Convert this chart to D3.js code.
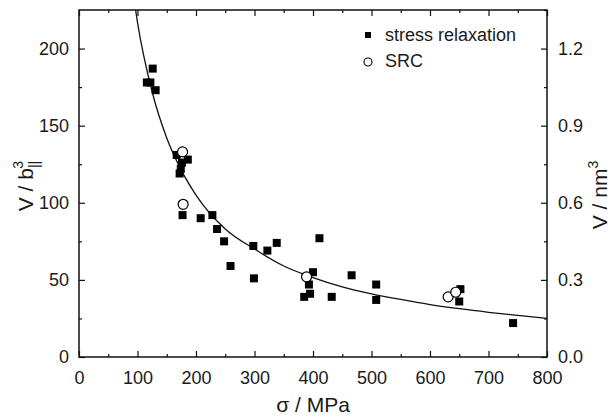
<!DOCTYPE html>
<html>
<head>
<meta charset="utf-8">
<script src="https://cdn.jsdelivr.net/npm/d3@7"></script>
<style>
    body { margin: 0; background: #fff; }
    text { font-family: "Liberation Sans", Arial, sans-serif; fill: #1a1a1a; }
</style>
</head>
<body>
<script>
// stress relaxation points (sigma in MPa, V in b^3)
const relaxSigma = [116, 122, 126, 131, 167, 186, 176, 174, 172, 177, 208, 228, 236, 248, 259, 299, 298, 322, 338, 411, 400, 393, 395, 385, 432, 466, 508, 508, 652, 650, 742];
const relaxV     = [178, 178, 187, 173, 131, 128, 126, 122, 119,  92,  90,  92,  83,  75,  59,  51,  72,  69,  74,  77,  55,  47,  41,  39,  39,  53,  47,  37,  44,  36,  22];

// SRC points
const srcSigma = [177, 178, 389, 631, 644];
const srcV     = [133,  99,  52,  39,  42];

// fitted curve
const fitSigma = [96, 100, 125, 150, 175, 200, 250, 300, 350, 400, 450, 500, 550, 600, 650, 700, 750, 800];
const fitV     = [227, 217, 172, 142, 121, 105, 83, 70, 59, 51.5, 45.5, 41, 37.3, 34, 31.3, 29, 27, 25];

const xTicks = [0, 100, 200, 300, 400, 500, 600, 700, 800];
const yTicks = [0, 50, 100, 150, 200];
const y2Ticks = [0.0, 0.3, 0.6, 0.9, 1.2];
const b3ToNm3 = 0.006;

const margin = {top: 10, right: 65, bottom: 61, left: 79};
const width = 612 - margin.left - margin.right;
const height = 418 - margin.top - margin.bottom;

const svg = d3.select("body").append("svg")
    .attr("width", 612)
    .attr("height", 418)
    .append("g")
    .attr("transform", "translate(" + margin.left + "," + margin.top + ")");

const xScale = d3.scaleLinear().domain([0, 800]).range([0, width]);
const yScale = d3.scaleLinear().domain([0, 225]).range([height, 0]);
const y2Scale = d3.scaleLinear().domain([0, 225 * b3ToNm3]).range([height, 0]);

// inward ticks, no axis line (the frame is drawn separately)
function styleAxis(g) {
    g.select(".domain").remove();
    g.selectAll("line").attr("stroke", "#111").attr("stroke-width", 1.2);
    g.selectAll("text").attr("font-size", 18).attr("fill", "#1a1a1a")
        .attr("font-family", "Liberation Sans, Arial, sans-serif");
}

const xMinor = d3.range(50, 800, 100);
const yMinor = d3.range(25, 225, 50);
const y2Minor = d3.range(0.15, 1.35, 0.3);

// bottom axis
svg.append("g")
    .attr("transform", "translate(0," + height + ")")
    .call(d3.axisBottom(xScale).tickValues(xTicks).tickSize(-6).tickPadding(14).tickFormat(d3.format("d")))
    .call(styleAxis);
svg.append("g")
    .attr("transform", "translate(0," + height + ")")
    .call(d3.axisBottom(xScale).tickValues(xMinor).tickSize(-3).tickFormat(""))
    .call(styleAxis);

// top axis
svg.append("g")
    .call(d3.axisTop(xScale).tickValues(xTicks).tickSize(-6).tickFormat(""))
    .call(styleAxis);
svg.append("g")
    .call(d3.axisTop(xScale).tickValues(xMinor).tickSize(-3).tickFormat(""))
    .call(styleAxis);

// left axis
svg.append("g")
    .call(d3.axisLeft(yScale).tickValues(yTicks).tickSize(-6).tickPadding(10))
    .call(styleAxis);
svg.append("g")
    .call(d3.axisLeft(yScale).tickValues(yMinor).tickSize(-3).tickFormat(""))
    .call(styleAxis);

// right axis
svg.append("g")
    .attr("transform", "translate(" + width + ",0)")
    .call(d3.axisRight(y2Scale).tickValues(y2Ticks).tickSize(-6).tickPadding(11).tickFormat(d3.format(".1f")))
    .call(styleAxis);
svg.append("g")
    .attr("transform", "translate(" + width + ",0)")
    .call(d3.axisRight(y2Scale).tickValues(y2Minor).tickSize(-3).tickFormat(""))
    .call(styleAxis);

// frame
svg.append("rect")
    .attr("width", width)
    .attr("height", height)
    .attr("fill", "none")
    .attr("stroke", "#111")
    .attr("stroke-width", 1.5);

// clip for the fit curve
svg.append("clipPath").attr("id", "plotclip")
    .append("rect").attr("width", width).attr("height", height);

const fitData = fitSigma.map((s, i) => ({s: s, v: fitV[i]}));
svg.append("path")
    .datum(fitData)
    .attr("clip-path", "url(#plotclip)")
    .attr("fill", "none")
    .attr("stroke", "#111")
    .attr("stroke-width", 1.3)
    .attr("d", d3.line().x(d => xScale(d.s)).y(d => yScale(d.v)).curve(d3.curveMonotoneX));

// stress relaxation squares
const sq = 8;
svg.selectAll(".relax")
    .data(relaxSigma.map((s, i) => ({s: s, v: relaxV[i]})))
    .enter().append("rect")
    .attr("class", "relax")
    .attr("x", d => xScale(d.s) - sq / 2)
    .attr("y", d => yScale(d.v) - sq / 2)
    .attr("width", sq)
    .attr("height", sq)
    .attr("fill", "#000");

// SRC open circles
svg.selectAll(".src")
    .data(srcSigma.map((s, i) => ({s: s, v: srcV[i]})))
    .enter().append("circle")
    .attr("class", "src")
    .attr("cx", d => xScale(d.s))
    .attr("cy", d => yScale(d.v))
    .attr("r", 5)
    .attr("fill", "#fff")
    .attr("stroke", "#000")
    .attr("stroke-width", 1.2);

// legend
svg.append("rect")
    .attr("x", 368 - margin.left - 3)
    .attr("y", 35 - margin.top - 3)
    .attr("width", 6)
    .attr("height", 6)
    .attr("fill", "#000");
svg.append("text")
    .attr("x", 385 - margin.left)
    .attr("y", 41 - margin.top)
    .attr("font-size", 18)
    .text("stress relaxation");
svg.append("circle")
    .attr("cx", 368 - margin.left)
    .attr("cy", 62 - margin.top)
    .attr("r", 4)
    .attr("fill", "#fff")
    .attr("stroke", "#000")
    .attr("stroke-width", 1.1);
svg.append("text")
    .attr("x", 385 - margin.left)
    .attr("y", 67 - margin.top)
    .attr("font-size", 18)
    .text("SRC");

// x-axis label
svg.append("text")
    .attr("x", width / 2)
    .attr("y", height + 55)
    .attr("text-anchor", "middle")
    .attr("font-size", 21)
    .text("σ / MPa");

// left y-axis label
const yLab = svg.append("text")
    .attr("transform", "rotate(-90)")
    .attr("x", -(186 - margin.top))
    .attr("y", 33 - margin.left)
    .attr("text-anchor", "middle")
    .attr("font-size", 21);
yLab.append("tspan").text("V / b");
yLab.append("tspan").attr("font-size", 14).attr("dy", 6).text("||");
yLab.append("tspan").attr("font-size", 14).attr("dx", -8).attr("dy", -16).text("3");

// right y-axis label
const y2Lab = svg.append("text")
    .attr("transform", "rotate(-90)")
    .attr("x", -(195 - margin.top))
    .attr("y", 607 - margin.left)
    .attr("text-anchor", "middle")
    .attr("font-size", 21);
y2Lab.append("tspan").text("V / nm");
y2Lab.append("tspan").attr("font-size", 14).attr("dy", -9).text("3");
</script>
</body>
</html>
